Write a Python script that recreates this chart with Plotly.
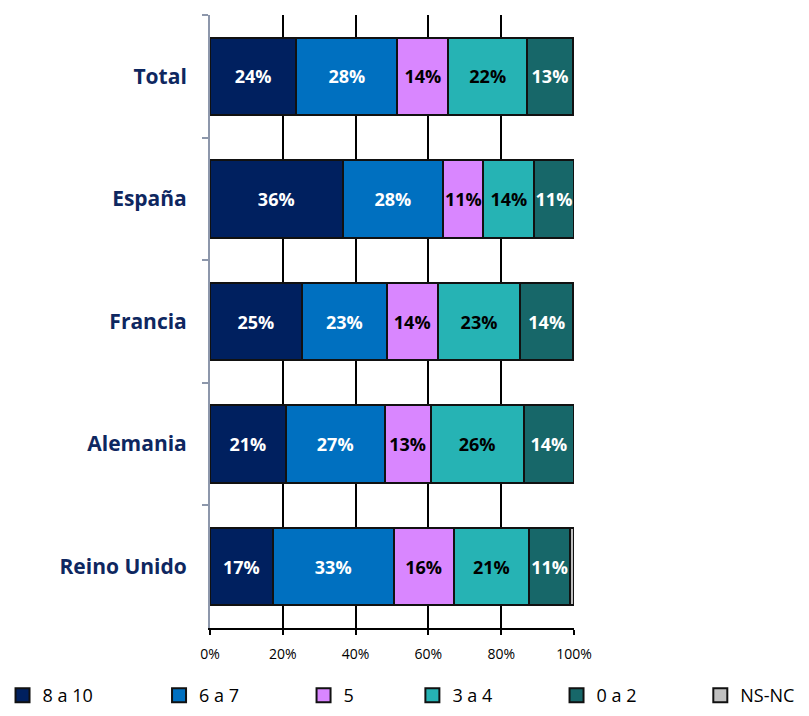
import plotly.graph_objects as go

categories = ["Total", "España", "Francia", "Alemania", "Reino Unido"]
series_names = ["8 a 10", "6 a 7", "5", "3 a 4", "0 a 2", "NS-NC"]
v_8a10 = [23.7, 36.4, 25.2, 20.8, 17.2]
v_6a7 = [27.8, 27.7, 23.4, 27.2, 33.3]
v_5 = [14.0, 11.0, 13.9, 12.6, 16.4]
v_3a4 = [21.6, 14.0, 22.8, 25.6, 20.8]
v_0a2 = [12.6, 10.8, 14.4, 13.8, 11.2]
v_nsnc = [0.3, 0.1, 0.1, 0.0, 1.0]
series_values = [v_8a10, v_6a7, v_5, v_3a4, v_0a2, v_nsnc]
x_tick_vals = [0, 20, 40, 60, 80, 100]
x_tick_text = ["0%", "20%", "40%", "60%", "80%", "100%"]

colors = ["#00205F", "#0070C0", "#D986FF", "#26B3B4", "#176769", "#C0C0C0"]
text_colors = ["white", "white", "black", "black", "white", None]
legend_x = [-0.570, -0.140, 0.257, 0.556, 0.952, 1.347]

FONT = "Open Sans"

fig = go.Figure()
for i, (name, vals, col, tcol) in enumerate(zip(series_names, series_values, colors, text_colors)):
    if tcol is not None:
        kw = dict(
            texttemplate="%{x:.0f}%",
            textposition="inside",
            insidetextanchor="middle",
            textangle=0,
            constraintext="none",
            textfont=dict(family=FONT, size=18, color=tcol, weight="bold"),
        )
    else:
        kw = dict(textposition="none")
    fig.add_trace(go.Bar(
        y=categories, x=vals, name=name, orientation="h",
        marker=dict(color=col, line=dict(color="#111111", width=2)),
        hoverinfo="skip", showlegend=False, **kw
    ))

# legend-only entries (square keys with a dark outline, as in the original)
for i, (name, col) in enumerate(zip(series_names, colors)):
    lg = "legend" if i == 0 else f"legend{i+1}"
    fig.add_trace(go.Scatter(
        x=[None], y=[None], mode="markers", name=name,
        marker=dict(symbol="square", size=14, color=col, line=dict(color="#111111", width=2)),
        legend=lg, showlegend=True, hoverinfo="skip",
    ))

layout_legends = {}
for i, lx in enumerate(legend_x):
    lg = "legend" if i == 0 else f"legend{i+1}"
    layout_legends[lg] = dict(
        orientation="h", x=lx, y=-0.0800, xanchor="left", yanchor="top",
        font=dict(family=FONT, size=18, color="black"),
        itemwidth=30, bgcolor="rgba(0,0,0,0)",
    )

fig.update_layout(
    barmode="stack",
    bargap=0.37,
    width=809, height=716,
    margin=dict(l=202, r=243, t=7, b=96, autoexpand=False),
    plot_bgcolor="white", paper_bgcolor="white",
    font=dict(family=FONT, color="black"),
    showlegend=True,
    **layout_legends,
)
fig.update_xaxes(
    range=[0, 100], tickvals=x_tick_vals, ticktext=x_tick_text,
    showgrid=True, gridcolor="black", gridwidth=2,
    showline=True, linecolor="black", linewidth=2,
    ticks="outside", ticklen=5, tickcolor="black", tickwidth=2,
    tickfont=dict(family=FONT, size=14, color="black"),
    ticklabelstandoff=7,
    zeroline=False, automargin=False,
)
fig.update_yaxes(
    categoryorder="array", categoryarray=categories, autorange="reversed",
    showline=True, linecolor="#8D97AB", linewidth=2,
    ticks="outside", tickson="boundaries", ticklen=6, tickcolor="#8D97AB", tickwidth=2,
    tickfont=dict(family=FONT, size=21, color="#0E2760", weight="bold"),
    ticklabelstandoff=17,
    showgrid=False, zeroline=False, automargin=False,
)

fig.write_html("out.html")
